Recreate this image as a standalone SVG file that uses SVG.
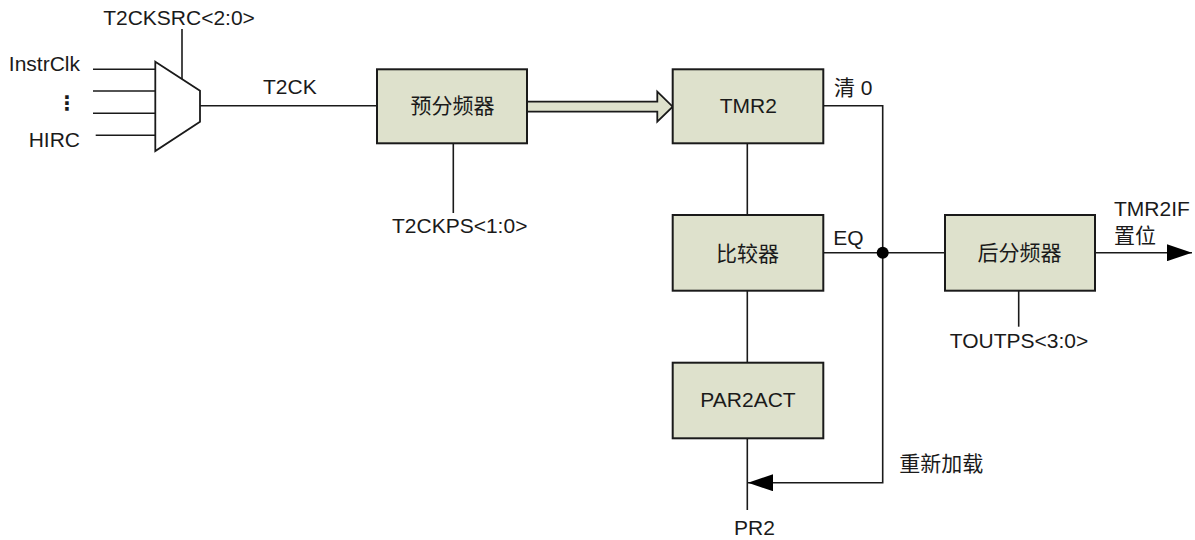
<svg xmlns="http://www.w3.org/2000/svg" width="1195" height="540" viewBox="0 0 1195 540">
<style>
text{font-family:"Liberation Sans","Noto Sans CJK SC",Arial,sans-serif;font-size:21px;fill:#1a1a1a}
.box{fill:#dee1cc;stroke:#1a1a1a;stroke-width:2}
.ln{fill:none;stroke:#1a1a1a;stroke-width:1.6}
.c{text-anchor:middle}
.e{text-anchor:end}
</style>
<defs>
<marker id="ah" markerWidth="26" markerHeight="17" refX="25" refY="8.5" orient="auto" markerUnits="userSpaceOnUse">
<path d="M0,0 L25,8.5 L0,17 Z" fill="#000"/>
</marker>
</defs>
<g id="connectors">
<line class="ln" x1="93" y1="69.3" x2="155.3" y2="69.3"/>
<line class="ln" x1="93" y1="91" x2="155.3" y2="91"/>
<line class="ln" x1="93" y1="113.3" x2="155.3" y2="113.3"/>
<line class="ln" x1="95.7" y1="135.3" x2="155.3" y2="135.3"/>
<line class="ln" x1="182" y1="29" x2="182" y2="79"/>
<line class="ln" x1="200" y1="105.7" x2="377" y2="105.7"/>
<line class="ln" x1="453.3" y1="143.3" x2="453.3" y2="213"/>
<path d="M527,101.7 L657.3,101.7 L657.3,91.7 L672.7,106.7 L657.3,121.7 L657.3,111.7 L527,111.7 Z" fill="#dee1cc" stroke="#1a1a1a" stroke-width="1.8" stroke-linejoin="miter"/>
<polyline class="ln" points="823,105.7 882.7,105.7 882.7,482.7 748,482.7" marker-end="url(#ah)"/>
<line class="ln" x1="747.3" y1="143.3" x2="747.3" y2="215"/>
<line class="ln" x1="747.3" y1="290.7" x2="747.3" y2="362.7"/>
<line class="ln" x1="747.3" y1="438.3" x2="747.3" y2="510"/>
<line class="ln" x1="823" y1="252.7" x2="945" y2="252.7"/>
<circle cx="882.7" cy="252.7" r="6" fill="#000"/>
<line class="ln" x1="1095" y1="252.7" x2="1192" y2="252.7" marker-end="url(#ah)"/>
<line class="ln" x1="1018.7" y1="290.7" x2="1018.7" y2="326.7"/>
</g>
<g id="mux">
<polygon points="155.3,61.7 200,90.7 200,121.7 155.3,151" fill="#fff" stroke="#1a1a1a" stroke-width="1.8"/>
<text class="c" x="179" y="25">T2CKSRC&lt;2:0&gt;</text>
<text class="e" x="80" y="71">InstrClk</text>
<text x="66.8" y="110" class="c" style="font-family:'DejaVu Sans',sans-serif;font-weight:bold;font-size:20px">⋮</text>
<text class="e" x="80" y="146.7">HIRC</text>
<text x="263" y="94">T2CK</text>
</g>
<g id="prescaler">
<rect class="box" x="377" y="69.3" width="150" height="74"/>
<text class="c" x="452.5" y="113.3">预分频器</text>
<text class="c" x="459.7" y="232.7">T2CKPS&lt;1:0&gt;</text>
</g>
<g id="tmr2">
<rect class="box" x="672.7" y="69.3" width="150.6" height="74"/>
<text class="c" x="748.3" y="113.3">TMR2</text>
<text x="834" y="95">清 0</text>
</g>
<g id="comparator">
<rect class="box" x="672.7" y="215" width="150.6" height="75.7"/>
<text class="c" x="747.5" y="260.7">比较器</text>
<text x="833.3" y="245">EQ</text>
</g>
<g id="par2act">
<rect class="box" x="672.7" y="362.7" width="150.6" height="75.6"/>
<text class="c" x="748" y="406.7">PAR2ACT</text>
<text class="c" x="754.5" y="535">PR2</text>
<text x="899.3" y="471">重新加载</text>
</g>
<g id="postscaler">
<rect class="box" x="945" y="215" width="150" height="75.7"/>
<text class="c" x="1019.5" y="260">后分频器</text>
<text class="c" x="1019" y="348.3">TOUTPS&lt;3:0&gt;</text>
<text x="1114" y="215.7">TMR2IF</text>
<text x="1114" y="242.7">置位</text>
</g>
</svg>
